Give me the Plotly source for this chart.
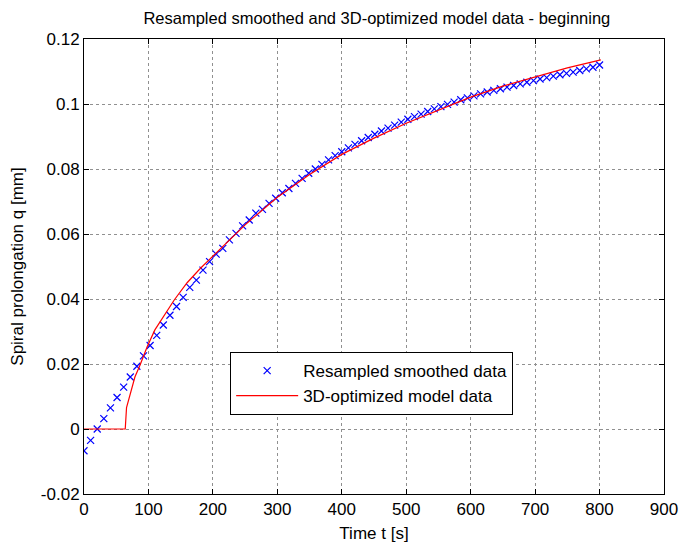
import plotly.graph_objects as go

# Resampled smoothed data (blue x markers), evenly spaced in time
n_pts = 79
t_end = 800.0
t_data = [i * t_end / (n_pts - 1) for i in range(n_pts)]
q_data = [
    -0.0067, -0.0035, 0.0000, 0.0032, 0.0065, 0.0097, 0.0129, 0.0160, 0.0193, 0.0225,
    0.0257, 0.0288, 0.0320, 0.0350, 0.0377, 0.0405, 0.0436, 0.0458, 0.0489, 0.0515,
    0.0538, 0.0556, 0.0582, 0.0602, 0.0625, 0.0643, 0.0664, 0.0676, 0.0694, 0.0710,
    0.0727, 0.0740, 0.0756, 0.0771, 0.0787, 0.0800, 0.0814, 0.0828, 0.0841, 0.0853,
    0.0865, 0.0876, 0.0887, 0.0897, 0.0907, 0.0917, 0.0926, 0.0935, 0.0944, 0.0953,
    0.0961, 0.0969, 0.0977, 0.0985, 0.0992, 0.0999, 0.1006, 0.1013, 0.1019, 0.1025,
    0.1031, 0.1037, 0.1042, 0.1047, 0.1052, 0.1057, 0.1062, 0.1067, 0.1072, 0.1077,
    0.1081, 0.1086, 0.1090, 0.1094, 0.1098, 0.1103, 0.1108, 0.1113, 0.1120,
]

# 3D-optimized model data (red line)
t_model = [0, 64, 66, 70, 79, 87, 98, 110, 125, 140, 160, 180, 200, 250, 300, 350, 400,
           450, 500, 550, 600, 650, 700, 750, 802]
q_model = [0.0, 0.0, 0.0066, 0.0097, 0.0160, 0.0197, 0.0253, 0.0305, 0.0352, 0.0397,
           0.0450, 0.0493, 0.0532, 0.0628, 0.0713, 0.0783, 0.0845, 0.0895, 0.0941, 0.0982,
           0.1021, 0.1055, 0.1084, 0.1111, 0.1136]

x_ticks = [0, 100, 200, 300, 400, 500, 600, 700, 800, 900]
y_ticks = [-0.02, 0, 0.02, 0.04, 0.06, 0.08, 0.1, 0.12]
y_tick_labels = ["-0.02", "0", "0.02", "0.04", "0.06", "0.08", "0.1", "0.12"]

FONT = "Liberation Sans, Arial, sans-serif"
FS = 17

fig = go.Figure()
fig.add_trace(go.Scatter(
    x=t_data, y=q_data, mode="markers", name="Resampled smoothed data",
    marker=dict(symbol="x-thin", size=7, line=dict(color="#0000ff", width=1.2), color="#0000ff"),
))
fig.add_trace(go.Scatter(
    x=t_model, y=q_model, mode="lines", name="3D-optimized model data",
    line=dict(color="#ff0000", width=1.2),
))

axis_common = dict(
    showline=True, linecolor="black", linewidth=1, mirror="ticks",
    ticks="inside", ticklen=5, tickcolor="black",
    showgrid=True, gridcolor="#909090", griddash="dot", gridwidth=1,
    zeroline=False, automargin=False,
    tickfont=dict(family=FONT, size=FS, color="black"),
)

fig.update_xaxes(range=[0, 900], tickvals=x_ticks,
                 title=dict(text="Time t [s]", font=dict(family=FONT, size=FS, color="black"), standoff=8),
                 **axis_common)
fig.update_yaxes(range=[-0.02, 0.12], tickvals=y_ticks, ticktext=y_tick_labels,
                 title=dict(text="Spiral prolongation q [mm]", font=dict(family=FONT, size=FS, color="black"), standoff=12),
                 **axis_common)

fig.update_layout(
    width=679, height=543,
    margin=dict(l=84, r=15, t=39, b=49),
    paper_bgcolor="white", plot_bgcolor="white",
    title=dict(text="Resampled smoothed and 3D-optimized model data - beginning",
               x=0.555, xanchor="center", y=0.967, yanchor="middle",
               font=dict(family=FONT, size=16.5, color="black")),
    font=dict(family=FONT, size=FS, color="black"),
    legend=dict(x=0.252, y=0.312, xanchor="left", yanchor="top",
                bgcolor="white", bordercolor="black", borderwidth=1,
                itemwidth=62, font=dict(family=FONT, size=FS, color="black"),
                tracegroupgap=0),
    showlegend=True,
)

fig.write_html("out.html")
